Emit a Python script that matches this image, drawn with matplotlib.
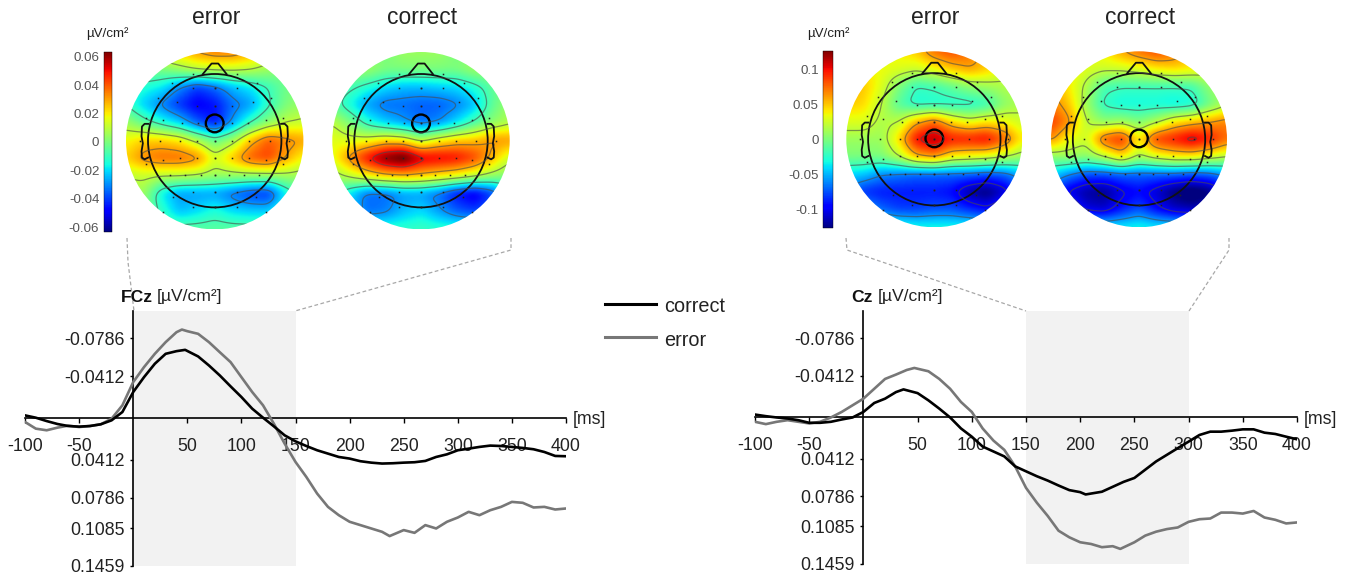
import numpy as np
import matplotlib
matplotlib.use('Agg')
import matplotlib.pyplot as plt
from matplotlib.patches import Circle
from matplotlib.cm import ScalarMappable
from matplotlib.colors import Normalize

plt.rcParams['font.family'] = 'Liberation Sans'
plt.rcParams['axes.unicode_minus'] = False

W, H = 1348, 578

# ERP curves, left panel (FCz)
fcz_correct_t = [-100, -90, -80, -70, -60, -50, -40, -30, -20, -10, 0, 10, 20, 30, 40, 48, 60, 70, 80, 90, 100, 110, 120, 130, 140, 150,
                 160, 170, 180, 190, 200, 210, 220, 230, 240, 250, 260, 270, 280, 290, 300, 310, 320, 330, 340, 350, 360, 370, 380, 390, 400]
fcz_correct = [-.0026, -.0003, .0030, .0059, .0079, .0085, .0079, .0062, .0023, -.0059, -.0256, -.0403, -.0535, -.0633, -.0659, -.0672,
               -.0607, -.0518, -.0420, -.0312, -.0207, -.0092, -.0003, .0082, .0171, .0230, .0276, .0318, .0351, .0384, .0400, .0426,
               .0440, .0449, .0446, .0440, .0436, .0423, .0384, .0358, .0318, .0302, .0285, .0272, .0276, .0285, .0295, .0308, .0335, .0374, .0377]
fcz_error_t = [-100, -90, -80, -70, -60, -50, -40, -30, -20, -10, 0, 10, 20, 30, 40, 45, 50, 60, 70, 80, 90, 100, 110, 120, 130, 140, 150,
               160, 170, 180, 190, 200, 210, 220, 230, 237, 250, 260, 270, 280, 290, 300, 310, 320, 330, 340, 350, 360, 370, 380, 390, 400]
fcz_error = [.0039, .0105, .0121, .0095, .0075, .0089, .0079, .0062, .0007, -.0125, -.0354, -.0502, -.0633, -.0748, -.0846, -.0872, -.0856,
             -.0830, -.0748, -.0649, -.0551, -.0403, -.0256, -.0125, .0056, .0253, .0433, .0581, .0745, .0876, .0958, .1023, .1056, .1089,
             .1122, .1164, .1105, .1132, .1056, .1089, .1023, .0981, .0925, .0958, .0909, .0876, .0827, .0836, .0882, .0876, .0902, .0892]

# ERP curves, right panel (Cz)
cz_correct_t = [-100, -90, -80, -70, -60, -50, -40, -30, -20, -10, 0, 10, 20, 30, 37, 50, 60, 70, 80, 90, 100, 110, 120, 130, 140, 150,
                160, 170, 180, 190, 200, 205, 220, 230, 240, 250, 260, 270, 280, 290, 300, 310, 320, 330, 340, 350, 360, 370, 380, 390, 400]
cz_correct = [-.0026, -.0010, .0003, .0013, .0030, .0056, .0056, .0046, .0023, .0003, -.0052, -.0141, -.0184, -.0249, -.0276, -.0239,
              -.0167, -.0085, .0003, .0112, .0194, .0292, .0341, .0390, .0489, .0538, .0587, .0630, .0679, .0725, .0745, .0768,
              .0741, .0692, .0643, .0604, .0522, .0440, .0374, .0308, .0243, .0177, .0144, .0144, .0134, .0121, .0121, .0154, .0167, .0194, .0220]
cz_error_t = [-100, -90, -80, -70, -60, -50, -40, -30, -20, -10, 0, 10, 20, 30, 40, 47, 60, 70, 80, 90, 100, 110, 120, 130, 140, 150,
              160, 170, 180, 190, 200, 210, 220, 230, 237, 250, 260, 270, 280, 290, 300, 310, 320, 330, 340, 350, 360, 370, 380, 390, 400]
cz_error = [.0046, .0069, .0046, .0030, .0046, .0062, .0046, .0003, -.0052, -.0118, -.0184, -.0282, -.0380, -.0423, -.0469, -.0489,
            -.0456, -.0380, -.0282, -.0151, -.0052, .0112, .0233, .0325, .0489, .0702, .0850, .0981, .1128, .1194, .1243, .1260, .1292,
            .1282, .1309, .1243, .1177, .1138, .1112, .1096, .1040, .1014, .1007, .0948, .0948, .0958, .0932, .0997, .1020, .1056, .1046]

x_ticks = [-100, -50, 50, 100, 150, 200, 250, 300, 350, 400]
y_ticks = [-.0786, -.0412, .0412, .0786, .1085, .1459]
y_labels = ['-0.0786', '-0.0412', '0.0412', '0.0786', '0.1085', '0.1459']

# scalp maps, values read on an 11x11 grid (top row = front of the head)
fcz_map_error = [
    [.020, .020, .020, .025, .032, .036, .036, .030, .020, .010, .010],
    [.000, .000, .000, .005, .010, .012, .012, .010, .005, .000, .000],
    [-.012, -.014, -.018, -.030, -.040, -.034, -.024, -.018, -.010, -.002, .000],
    [-.010, -.022, -.032, -.042, -.050, -.046, -.034, -.028, -.012, .000, .005],
    [.005, -.005, -.014, -.022, -.036, -.046, -.028, -.010, .002, .010, .012],
    [.018, .024, .024, .020, .008, -.004, .006, .026, .040, .034, .030],
    [.024, .034, .038, .038, .034, .014, .026, .040, .044, .030, .018],
    [.010, .012, .010, .010, .008, .005, .005, .004, .004, .006, .005],
    [.005, .005, -.018, -.028, -.028, -.028, -.034, -.040, -.042, -.018, -.005],
    [.000, .000, -.012, -.024, -.020, -.014, -.020, -.022, -.022, -.010, -.005],
    [-.005, -.005, -.005, -.005, -.005, -.005, -.005, -.005, -.005, -.005, -.005],
]
fcz_map_correct = [
    [.000, .000, .000, .000, .005, .005, .005, .000, .000, .000, .000],
    [.005, .005, .005, .000, .000, .000, .000, .000, .005, .005, .005],
    [-.005, -.008, -.014, -.020, -.024, -.024, -.022, -.020, -.014, -.005, .000],
    [-.005, -.016, -.028, -.034, -.034, -.036, -.036, -.032, -.024, -.005, .005],
    [.010, .000, -.014, -.022, -.028, -.034, -.030, -.020, -.008, .002, .008],
    [.016, .014, .016, .022, .020, .008, .018, .024, .026, .032, .032],
    [.016, .034, .052, .066, .072, .056, .054, .052, .044, .028, .012],
    [.005, .012, .020, .026, .028, .026, .022, .018, .012, .005, .000],
    [-.005, -.020, -.034, -.034, -.028, -.028, -.034, -.046, -.052, -.040, -.015],
    [-.010, -.022, -.034, -.032, -.024, -.020, -.028, -.036, -.040, -.034, -.015],
    [-.010, -.010, -.012, -.012, -.012, -.010, -.012, -.012, -.012, -.010, -.010],
]
cz_map_error = [
    [.030, .030, .030, .040, .050, .075, .085, .075, .050, .030, .030],
    [.050, .040, .035, .030, .025, .035, .050, .060, .050, .030, .020],
    [.060, .050, .030, .000, -.022, -.018, -.008, .005, .010, .015, .020],
    [.050, .045, .020, -.012, -.028, -.028, -.028, -.028, -.022, .005, .015],
    [.030, .030, .015, .020, .055, .075, .045, .030, .040, .035, .025],
    [.010, .010, .010, .045, .105, .120, .100, .100, .105, .080, .040],
    [.000, .000, .000, .020, .055, .065, .040, .035, .030, .020, .010],
    [-.040, -.045, -.060, -.065, -.070, -.070, -.070, -.070, -.075, -.070, -.050],
    [-.065, -.085, -.090, -.090, -.090, -.090, -.095, -.120, -.130, -.110, -.075],
    [-.030, -.050, -.070, -.080, -.080, -.075, -.075, -.085, -.095, -.075, -.050],
    [-.005, -.010, -.020, -.025, -.030, -.030, -.030, -.030, -.030, -.020, -.010],
]
cz_map_correct = [
    [.030, .030, .030, .040, .060, .075, .085, .075, .050, .030, .030],
    [.050, .040, .030, .025, .025, .030, .040, .045, .040, .030, .020],
    [.060, .040, .015, -.015, -.020, -.020, -.020, -.020, -.018, .005, .020],
    [.070, .050, .010, -.024, -.032, -.032, -.032, -.036, -.032, -.005, .015],
    [.090, .065, .020, .005, .010, .000, .015, .040, .050, .060, .070],
    [.065, .035, .025, .080, .095, .040, .090, .100, .115, .100, .075],
    [.005, .010, .005, .020, .045, .015, .030, .040, .040, .030, .020],
    [-.040, -.060, -.075, -.075, -.070, -.070, -.070, -.070, -.075, -.070, -.055],
    [-.075, -.105, -.120, -.125, -.105, -.095, -.110, -.130, -.140, -.130, -.095],
    [-.040, -.075, -.105, -.110, -.090, -.075, -.095, -.110, -.115, -.105, -.070],
    [-.005, -.015, -.030, -.035, -.035, -.030, -.035, -.035, -.035, -.025, -.010],
]

# electrode rows: (y, x on one side); mirrored when drawn
electrodes = [(.75, [.25]), (.65, [.48]), (.59, [0, .25]), (.48, [.64]), (.44, [.43]), (.39, [0, .2]),
              (.26, [.77]), (.23, [.58]), (.2, [0, .19, .37]), (0, [0, .2, .39, .62, .84]),
              (-.19, [0, .2, .39]), (-.22, [.58]), (-.26, [.77]), (-.39, [0, .16, .33, .5]),
              (-.58, [0, .25]), (-.63, [.47]), (-.75, [0, .25]), (-.8, [.58])]

nose_x = [-.135, -.035, .04, .135]
nose_y = [.75, .87, .87, .75]
ear_x = [.75, .79, .82, .825, .81, .825, .82, .79, .75]
ear_y = [.19, .19, .16, .05, -.03, -.12, -.19, -.21, -.19]


def ax_px(left, top, right, bottom):
    return fig.add_axes([left / W, 1 - bottom / H, (right - left) / W, (bottom - top) / H])


def smooth_grid(grid, n=221, k=11):
    grid = np.array(grid)
    src = np.linspace(-1, 1, grid.shape[0])
    dst = np.linspace(-1, 1, n)
    tmp = np.array([np.interp(dst, src, row) for row in grid])
    out = np.array([np.interp(dst, src, col) for col in tmp.T]).T
    kern = np.ones(k) / k
    for _ in range(2):
        out = np.pad(out, k, mode='edge')
        out = np.apply_along_axis(lambda v: np.convolve(v, kern, mode='same'), 0, out)
        out = np.apply_along_axis(lambda v: np.convolve(v, kern, mode='same'), 1, out)
        out = out[k:-k, k:-k]
    return out[::-1], dst


def scalp(cx, cy, r, grid, vmax, levels, mark_y, title):
    ax = ax_px(cx - r - 2, cy - r - 2, cx + r + 2, cy + r + 2)
    pad = 2 / r
    ax.set_xlim(-1 - pad, 1 + pad)
    ax.set_ylim(-1 - pad, 1 + pad)
    ax.axis('off')
    z, g = smooth_grid(grid)
    clip = Circle((0, 0), 1, transform=ax.transData)
    im = ax.imshow(z, extent=[-1, 1, -1, 1], origin='lower', cmap='jet', vmin=-vmax, vmax=vmax, interpolation='bilinear')
    im.set_clip_path(clip)
    cs = ax.contour(g, g, z, levels=levels, colors='#4a4a4a', linewidths=0.9, linestyles='solid', alpha=0.6)
    cs.set_clip_path(clip)
    for y, xs in electrodes:
        xs = np.array(xs, dtype=float)
        ax.plot(np.r_[xs, -xs], [y] * (2 * len(xs)), ls='', marker='s', ms=1.1, color='#222222', mew=0)
    ax.add_patch(Circle((0, 0), .752, fill=False, ec='#111111', lw=1.3))
    ax.plot(nose_x, nose_y, color='#111111', lw=1.3)
    ax.plot(ear_x, ear_y, color='#111111', lw=1.3)
    ax.plot(-np.array(ear_x), ear_y, color='#111111', lw=1.3)
    ax.add_patch(Circle((0, mark_y), .1, fill=False, ec='#000000', lw=1.7))
    ov.text(cx + 1, 17, title, fontsize=16.5, ha='center', va='center', color='#222222')


def cbar(left, top, right, bottom, vmax, ticks, labels):
    cax = ax_px(left, top, right, bottom)
    cb = fig.colorbar(ScalarMappable(Normalize(-vmax, vmax), 'jet'), cax=cax)
    cb.ax.yaxis.set_ticks_position('left')
    cb.set_ticks(ticks, labels=labels)
    cb.ax.tick_params(length=0, pad=3, labelsize=9.6, labelcolor='#555555')
    cb.outline.set_linewidth(0.3)
    ov.text((left + right) / 2, 34, 'µV/cm²', fontsize=9.6, ha='center', va='center', color='#222222')


def erp(left, right, top, bottom, t1, y1, t2, y2, span, name, name_w):
    ax = ax_px(left, top, right, bottom)
    ax.set_xlim(-100, 400)
    ax.set_ylim(.1459, -.1055)
    ax.axvspan(span[0], span[1], color='#f2f2f2', lw=0, zorder=0)
    ax.plot(t2, y2, color='#777777', lw=1.9, zorder=3)
    ax.plot(t1, y1, color='#000000', lw=1.9, zorder=4)
    for s in ['top', 'right']:
        ax.spines[s].set_visible(False)
    ax.spines['left'].set_position(('data', 0))
    ax.spines['bottom'].set_position(('data', 0))
    ax.spines['left'].set_linewidth(1.2)
    ax.spines['bottom'].set_linewidth(1.2)
    ax.set_xticks(x_ticks)
    ax.set_yticks(y_ticks, labels=y_labels)
    ax.tick_params(axis='x', direction='out', length=3.5, width=1, pad=11, labelsize=12.8, labelcolor='#222222')
    ax.tick_params(axis='y', direction='out', length=2, width=1, pad=4, labelsize=12.8, labelcolor='#222222')
    ax.patch.set_visible(False)
    zero_x = left + (right - left) / 5
    ov.text(zero_x - 12, 297, name, fontsize=12.6, fontweight='bold', ha='left', va='center', color='#111111')
    ov.text(zero_x - 12 + name_w, 297, '[µV/cm²]', fontsize=12.6, ha='left', va='center', color='#222222')
    ov.text(right + 7, 420, '[ms]', fontsize=12.8, ha='left', va='center', color='#222222')


fig = plt.figure(figsize=(W / 100, H / 100), dpi=100)

# overlay in pixel units, only for texts and the dashed connectors
ov = fig.add_axes([0, 0, 1, 1])
ov.set_xlim(0, W)
ov.set_ylim(H, 0)
ov.axis('off')

dash = dict(color='#a8a8a8', lw=0.9, ls=(0, (3, 2)))
ov.plot([127, 128, 134], [238, 262, 311], **dash)
ov.plot([511, 511, 295], [238, 250, 311], **dash)
ov.plot([846, 847, 1026], [238, 250, 311], **dash)
ov.plot([1229, 1229, 1189], [238, 250, 311], **dash)

lv = [-.05, -.03, -.01, .01, .03, .05]
lv2 = [-.1, -.06, -.02, .02, .06, .1]
scalp(214.7, 140.7, 88.7, fcz_map_error, .0635, lv, .195, 'error')
scalp(421, 140.7, 88.7, fcz_map_correct, .0635, lv, .195, 'correct')
scalp(934.3, 139.3, 88, cz_map_error, .127, lv2, .01, 'error')
scalp(1139, 139.3, 88, cz_map_correct, .127, lv2, .01, 'correct')

cbar(103.5, 52, 112, 232, .0635, [-.06, -.04, -.02, 0, .02, .04, .06], ['-0.06', '-0.04', '-0.02', '0', '0.02', '0.04', '0.06'])
cbar(823, 51, 833, 228, .127, [-.1, -.05, 0, .05, .1], ['-0.1', '-0.05', '0', '0.05', '0.1'])

erp(25, 566, 311, 566, fcz_correct_t, fcz_correct, fcz_error_t, fcz_error, (0, 150), 'FCz', 36)
erp(755, 1297, 311, 564, cz_correct_t, cz_correct, cz_error_t, cz_error, (150, 300), 'Cz', 26)

ov.plot([605, 656], [304, 304], color='#000000', lw=2.2)
ov.plot([605, 656], [337, 337], color='#777777', lw=2.2)
ov.text(664, 307, 'correct', fontsize=14.3, ha='left', va='center', color='#222222')
ov.text(664, 341, 'error', fontsize=14.3, ha='left', va='center', color='#222222')

fig.savefig('out.png', dpi=100)
